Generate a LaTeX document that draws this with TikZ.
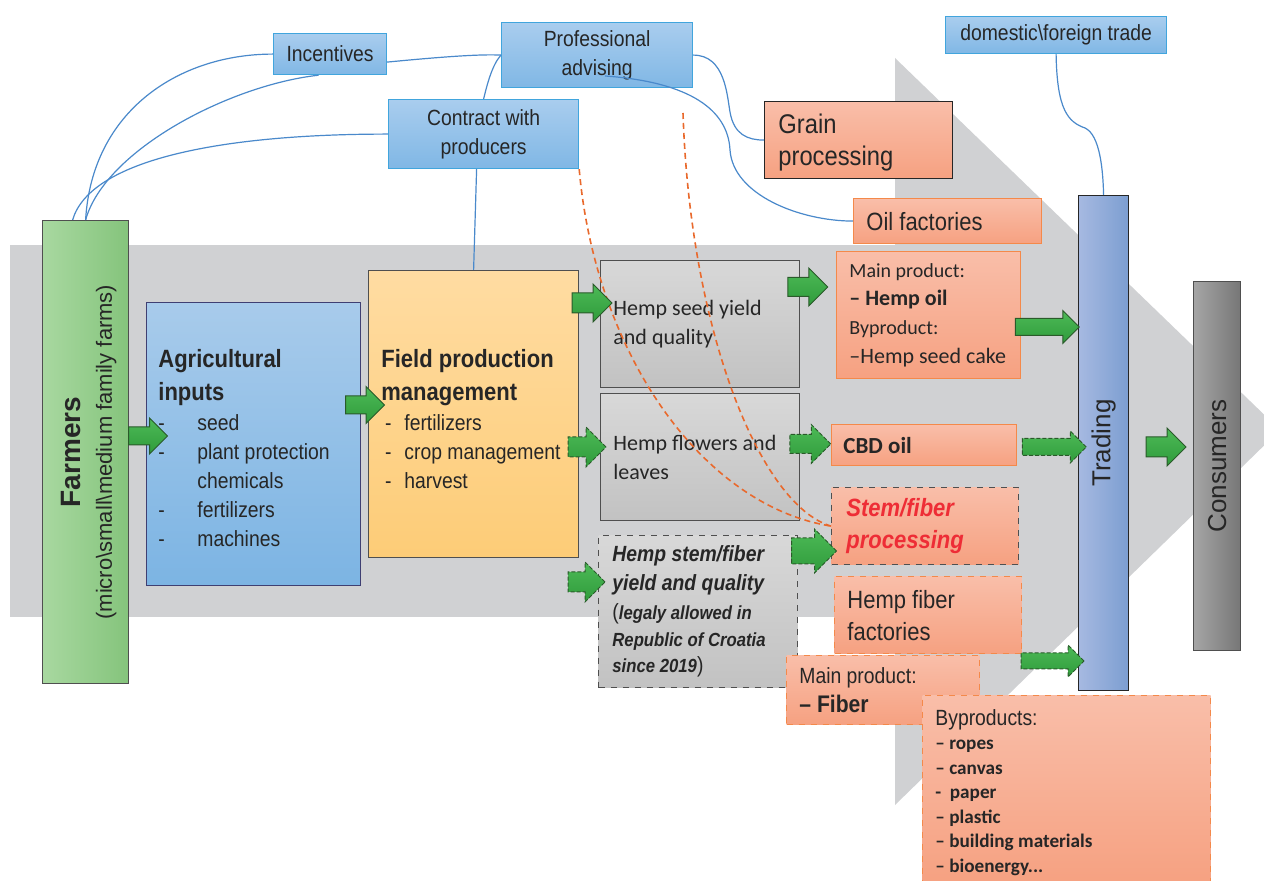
\documentclass[tikz,border=0pt]{standalone}
\usepackage{fontspec}
\setmainfont{Liberation Sans}[FakeStretch=0.88]
\newfontfamily\arialfont{Liberation Sans}
\newfontfamily\calfont{Carlito}
\usetikzlibrary{shapes.arrows}
\definecolor{bgcol}{HTML}{D0D1D3}
\definecolor{bluetop}{HTML}{A9CDEE}
\definecolor{bluebot}{HTML}{80B7E5}
\definecolor{boxblue}{HTML}{41A5DD}
\definecolor{saltop}{HTML}{F9BEA9}
\definecolor{salbot}{HTML}{F6A181}
\definecolor{salline}{HTML}{F4894A}
\definecolor{graytop}{HTML}{D8D8D8}
\definecolor{graybot}{HTML}{C2C2C2}
\definecolor{grayline}{HTML}{4F4F4F}
\definecolor{farmleft}{HTML}{A8D8A0}
\definecolor{farmright}{HTML}{85C47C}
\definecolor{agrtop}{HTML}{A8CBEB}
\definecolor{agrbot}{HTML}{7CB4E3}
\definecolor{fldtop}{HTML}{FFDCA2}
\definecolor{fldbot}{HTML}{FDCC77}
\definecolor{trdleft}{HTML}{A6B9E1}
\definecolor{trdright}{HTML}{7C9ED1}
\definecolor{cnsleft}{HTML}{A5A5A5}
\definecolor{cnsright}{HTML}{767676}
\definecolor{gtop}{HTML}{4DBA57}
\definecolor{gbot}{HTML}{2F9B3B}
\definecolor{arrline}{HTML}{2A5A2A}
\definecolor{linkblue}{HTML}{4A89CB}
\definecolor{linkorange}{HTML}{E9692C}
\definecolor{txtcol}{HTML}{262626}
\definecolor{redtxt}{HTML}{EE2D36}
\newcommand\setfs[2]{\fontsize{#1}{#2}\selectfont}
\newcommand\agh[1]{{\bfseries\setfs{12.5}{15}#1}}
\newcommand\li[2]{\makebox[#1][l]{#2}}
\begin{document}
\begin{tikzpicture}[x=0.5pt,y=-0.5pt,
  bx/.style={draw, line width=0.6pt, inner sep=0pt, anchor=north west, text=txtcol},
  bluebx/.style={bx, draw=boxblue, top color=bluetop, bottom color=bluebot},
  salbx/.style={bx, draw=salline, top color=saltop, bottom color=salbot},
  graybx/.style={bx, draw=grayline, top color=graytop, bottom color=graybot},
  txt/.style={inner sep=0pt, align=left, text=txtcol, anchor=west},
  garrow/.style n args={3}{single arrow, draw=arrline, line width=0.5pt, top color=gtop, bottom color=gbot, inner xsep=0pt, minimum height=#1, inner ysep=#2, single arrow head extend=#3},
  dashedarrow/.style={dash pattern=on 2pt off 1pt},
  link/.style={draw=linkblue, line width=0.6pt},
  olink/.style={draw=linkorange, line width=0.8pt, dash pattern=on 3pt off 2pt},
]
\useasboundingbox (0,0) rectangle (1264,881);
\fill[white] (0,0) rectangle (1264,881);
% background big arrow
\fill[bgcol] (10,245) rectangle (895,617);
\fill[bgcol] (895,58) -- (1280,430) -- (895,805) -- cycle;

% top blue boxes
\node[bluebx, minimum width=56.5pt, minimum height=20.5pt, font=\setfs{11}{14.5}] (inc) at (273,33) {Incentives};
\node[bluebx, minimum width=95.5pt, minimum height=32.5pt, align=center, font=\setfs{11}{14.5}] (pro) at (501,22) {Professional\\advising};
\node[bluebx, minimum width=95pt, minimum height=34.5pt, align=center, font=\setfs{11}{14.5}] (con) at (388,99) {Contract with\\producers};
\node[bluebx, minimum width=110.5pt, minimum height=18.5pt, font=\setfs{11}{14.5}] (dom) at (945,16) {domestic\textbackslash foreign trade};

% main boxes
\node[bx, draw=grayline, left color=farmleft, right color=farmright, minimum width=43pt, minimum height=231.5pt] (farm) at (42,220) {};
\node[bx, draw=grayline!80!blue, top color=agrtop, bottom color=agrbot, minimum width=107pt, minimum height=141.5pt] (agr) at (146,302) {};
\node[bx, draw=grayline, top color=fldtop, bottom color=fldbot, minimum width=105pt, minimum height=143.5pt] (fld) at (368,270) {};
\node[graybx, minimum width=99.5pt, minimum height=63.5pt] (seed) at (600,260) {};
\node[graybx, minimum width=99.5pt, minimum height=63.5pt] (flw) at (600,393) {};
\node[graybx, dashed, minimum width=99.5pt, minimum height=76pt] (stem) at (598,535) {};
\node[bx, draw=txtcol, top color=saltop, bottom color=salbot, minimum width=94pt, minimum height=38.5pt] (grain) at (764,101) {};
\node[salbx, minimum width=94pt, minimum height=22.5pt] (oil) at (853,198) {};
\node[salbx, minimum width=92pt, minimum height=63.5pt] (mp1) at (836,251) {};
\node[salbx, minimum width=92.5pt, minimum height=20.5pt] (cbd) at (831,424) {};
\node[salbx, draw=grayline, dashed, minimum width=93.5pt, minimum height=38.5pt] (stp) at (831,487) {};
\node[salbx, dashed, minimum width=93.5pt, minimum height=38.5pt] (hff) at (834,576) {};
\node[salbx, dashed, minimum width=96.5pt, minimum height=34.5pt] (mpf) at (786,655) {};
\node[salbx, dashed, minimum width=144pt, minimum height=94pt] (byp) at (922,695) {};
\node[bx, draw=txtcol, left color=trdleft, right color=trdright, minimum width=25pt, minimum height=247.5pt] (trd) at (1078,195) {};
\node[bx, draw=grayline, left color=cnsleft, right color=cnsright, minimum width=23.5pt, minimum height=184.5pt] (cns) at (1193,281) {};

% texts
\node[inner sep=0pt, rotate=90, align=center, text=txtcol, font=\arialfont\setfs{11}{15.5}] (farmt) at ([xshift=1.75pt]farm.center) {{\bfseries\setfs{14}{15.5}Farmers}\\(micro\textbackslash small\textbackslash medium family farms)};
\node[inner sep=0pt, rotate=90, text=txtcol, font=\arialfont\setfs{13}{15}] (trdt) at (trd.center) {Trading};
\node[inner sep=0pt, rotate=90, text=txtcol, font=\arialfont\setfs{13}{15}] (cnst) at (cns.center) {Consumers};
\node[txt, font=\setfs{11}{14.5}] (agrt) at ([xshift=6pt, yshift=-1.75pt]agr.west) {\agh{Agricultural}\\[2pt]\agh{inputs}\\[0.5pt]\li{19.5pt}{-}seed\\\li{19.5pt}{-}plant protection\\\li{19.5pt}{}chemicals\\\li{19.5pt}{-}fertilizers\\\li{19.5pt}{-}machines};
\node[txt, font=\setfs{11}{14.5}] (fldt) at ([xshift=6.5pt, yshift=-2.5pt]fld.west) {\agh{Field production}\\[2pt]\agh{management}\\[0.5pt]\li{11.5pt}{\,-}fertilizers\\\li{11.5pt}{\,-}crop management\\\li{11.5pt}{\,-}harvest};
\node[txt, font=\calfont\setfs{11}{14.5}] (seedt) at ([xshift=6.5pt]seed.west) {Hemp seed yield\\and quality};
\node[txt, font=\calfont\setfs{11}{14.5}] (flwt) at ([xshift=6.5pt]flw.west) {Hemp flowers and\\leaves};
\node[txt, font=\bfseries\itshape\setfs{9.5}{13.2}] (stemt) at ([xshift=7pt]stem.west) {{\setfs{11}{13}Hemp stem/fiber}\\[1.3pt]{\setfs{11}{13}yield and quality}\\[1.3pt]{\upshape\mdseries\setfs{11}{13}(}legaly allowed in\\Republic of Croatia\\since 2019{\upshape\mdseries\setfs{11}{13})}};
\node[txt, font=\setfs{13.5}{16}] (graint) at ([xshift=7pt, yshift=-1pt]grain.west) {Grain\\processing};
\node[txt, font=\setfs{12.5}{15}] (oilt) at ([xshift=6.5pt]oil.west) {Oil factories};
\node[txt, font=\calfont\setfs{11}{14.3}] (mp1t) at ([xshift=6.5pt]mp1.west) {{\setfs{10}{12}Main product:}\\{\bfseries – Hemp oil}\\{\setfs{10}{12}Byproduct:}\\–Hemp seed cake};
\node[txt, font=\calfont\bfseries\setfs{11.5}{14}] (cbdt) at ([xshift=6pt]cbd.west) {CBD oil};
\node[txt, text=redtxt, font=\bfseries\itshape\setfs{12.5}{16}] (stpt) at ([xshift=7.5pt]stp.west) {Stem/fiber\\processing};
\node[txt, font=\setfs{12.5}{16}] (hfft) at ([xshift=6.5pt]hff.west) {Hemp fiber\\factories};
\node[txt, font=\setfs{11}{14.5}] (mpft) at ([xshift=6.5pt]mpf.west) {Main product:\\{\bfseries\setfs{12}{14}– Fiber}};
\node[txt, font=\calfont\bfseries\setfs{9.6}{12.25}] (bypt) at ([xshift=6.5pt, yshift=-1.5pt]byp.west) {{\rmfamily\mdseries\setfs{11}{12}Byproducts:}\\– ropes\\– canvas\\-\hspace{0.45em}paper\\– plastic\\– building materials\\– bioenergy...};

% blue connectors
\draw[link] (farm.north) .. controls (92,110) and (180,54) .. (inc.west);
\draw[link] (farm.north) .. controls (105,150) and (230,85) .. ([xshift=-5.75pt]inc.south);
\draw[link] ([xshift=-6.5pt]farm.north) .. controls (90,160) and (220,134) .. (con.west);
\draw[link] ([yshift=-4pt]inc.east) .. controls (440,57) and (480,54) .. (pro.west);
\draw[link] (pro.west) .. controls (492,65) and (487,85) .. (con.north);
\draw[link] ([xshift=-3.5pt]con.south) -- (fld.north);
\draw[link] (pro.east) .. controls (725,55) and (727,95) .. (730,112) .. controls (734,135) and (748,140) .. (grain.west);
\coordinate (advpt) at (605,76);
\draw[link] (advpt) .. controls (690,82) and (728,110) .. (730,150) .. controls (733,195) and (800,221) .. (oil.west);
\draw[link] (dom.south) .. controls (1057,110) and (1068,122) .. (1085,128) .. controls (1100,135) and (1103,170) .. (trd.north);

% orange dashed connectors
\coordinate (advd) at (683,113);
\draw[olink] (con.south east) .. controls (595,350) and (700,505) .. (stp.west);
\draw[olink] (advd) .. controls (690,330) and (760,505) .. (stp.west);

% green block arrows: length, half shaft, head extend
\node[garrow={19.5pt}{4.25pt}{4.5pt}] (a1) at (143.5,436) {};
\node[garrow={19.5pt}{4.25pt}{4.75pt}] (a2) at (360.5,405) {};
\node[garrow={20pt}{4.75pt}{4.5pt}] (a3) at (587,303) {};
\node[garrow={19pt}{4.75pt}{5pt}, dashedarrow] (a4) at (582,447) {};
\node[garrow={18.5pt}{4.75pt}{5pt}, dashedarrow] (a5) at (581.5,582) {};
\node[garrow={20pt}{4.5pt}{4.75pt}] (a6) at (803,287) {};
\node[garrow={20.5pt}{4.5pt}{5pt}, dashedarrow] (a7) at (805.5,444) {};
\node[garrow={22.5pt}{6.25pt}{4.5pt}, dashedarrow] (a8) at (807.5,551) {};
\node[garrow={32pt}{4pt}{4pt}] (a9) at (1043,327) {};
\node[garrow={32pt}{4pt}{3.75pt}, dashedarrow] (a10) at (1050,447) {};
\node[garrow={31.5pt}{3.75pt}{4pt}, dashedarrow] (a11) at (1048.5,661) {};
\node[garrow={20pt}{4.75pt}{4.5pt}] (a12) at (1161,447) {};
\end{tikzpicture}
\end{document}
